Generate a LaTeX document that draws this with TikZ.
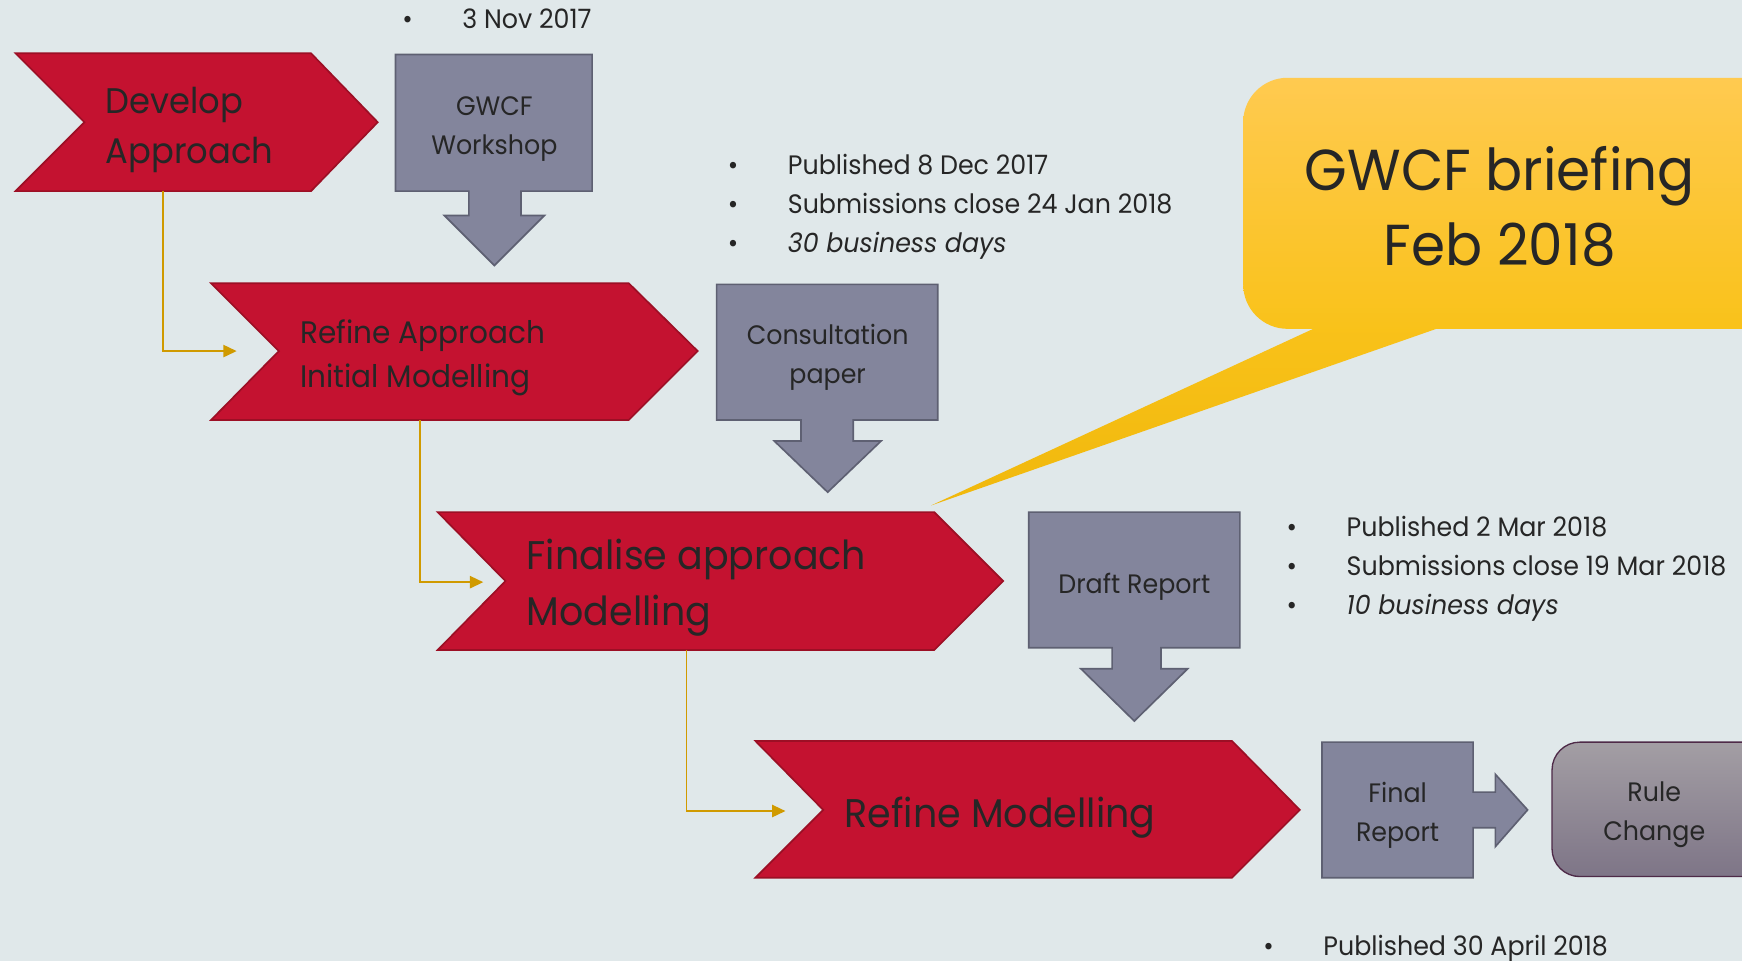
\documentclass[tikz,border=0pt]{standalone}
\usepackage{fontspec}
\setmainfont[FakeStretch=0.95]{Poppins}
\usetikzlibrary{arrows.meta}
\definecolor{bg}{HTML}{E0E8EA}
\definecolor{chev}{HTML}{C41230}
\definecolor{chevb}{HTML}{9C0F25}
\definecolor{box}{HTML}{83859C}
\definecolor{boxb}{HTML}{5E6072}
\definecolor{txt}{HTML}{262626}
\definecolor{conn}{HTML}{D09A00}
\definecolor{ytop}{HTML}{FFCA50}
\definecolor{ybot}{HTML}{F9C21A}
\definecolor{ytip}{HTML}{F0B80C}
\definecolor{rtop}{HTML}{A39EA4}
\definecolor{rbot}{HTML}{7E7587}
\definecolor{rbord}{HTML}{4E2A48}
\begin{document}
\begin{tikzpicture}[x=1pt,y=-1pt,
  chevron/.style={fill=chev,draw=chevb,line width=1.5pt,line join=miter},
  callout/.style={fill=box,draw=boxb,line width=1.5pt,line join=miter},
  linkline/.style={draw=conn,line width=1.6pt,-{Triangle[length=12pt,width=11pt]}},
  lbl/.style={text=txt,inner sep=0pt},
  chevtxt/.style={lbl,anchor=west,align=left},
  boxtxt/.style={lbl,align=center,font=\fontsize{24}{35}\selectfont},
  bul/.style={lbl,anchor=base west,font=\fontsize{24}{35}\selectfont},
]
\useasboundingbox (0,0) rectangle (1568,865);
\fill[bg] (0,0) rectangle (1568,865);

% chevrons
\path[chevron] (14,48) -- (280,48) -- (340,110) -- (280,172) -- (14,172) -- (76,110) -- cycle;
\path[chevron] (190,255) -- (566,255) -- (628,316) -- (566,378) -- (190,378) -- (251,316) -- cycle;
\path[chevron] (394,461) -- (841,461) -- (903,523) -- (841,585) -- (394,585) -- (455,523) -- cycle;
\path[chevron] (680,667) -- (1109,667) -- (1170,729) -- (1109,790) -- (680,790) -- (741,729) -- cycle;

\node[chevtxt,font=\fontsize{32}{45}\selectfont] (dev) at (95,117) {Develop\\Approach};
\node[chevtxt,font=\fontsize{28}{40}\selectfont] (refa) at (270,322) {Refine Approach\\Initial Modelling};
\node[chevtxt,font=\fontsize{36}{51}\selectfont] (fin) at (474,529) {Finalise approach\\Modelling};
\node[chevtxt,font=\fontsize{36}{51}\selectfont] (refm) at (760,736) {Refine Modelling};

% callouts
\path[callout] (356,49) -- (533,49) -- (533,172) -- (469,172) -- (469,194) -- (490,194) -- (445,239) -- (400,194) -- (422,194) -- (422,172) -- (356,172) -- cycle;
\path[callout] (645,256) -- (844,256) -- (844,378) -- (768,378) -- (768,397) -- (793,397) -- (745,443) -- (697,397) -- (721,397) -- (721,378) -- (645,378) -- cycle;
\path[callout] (926,461) -- (1116,461) -- (1116,583) -- (1045,583) -- (1045,602) -- (1069,602) -- (1021,649) -- (973,602) -- (1001,602) -- (1001,583) -- (926,583) -- cycle;
\path[callout] (1190,668) -- (1326,668) -- (1326,713) -- (1346,713) -- (1346,697) -- (1375,729) -- (1346,762) -- (1346,745) -- (1326,745) -- (1326,790) -- (1190,790) -- cycle;

\node[boxtxt] (ws) at (445,116) {GWCF\\Workshop};
\node[boxtxt] (cp) at (745,322) {Consultation\\paper};
\node[boxtxt] (dr) at (1021,528) {Draft Report};
\node[boxtxt] (fr) at (1258,734) {Final\\Report};

% rule change
\shade[top color=rtop,bottom color=rbot,draw=rbord,line width=1.2pt,rounded corners=25pt] (1397,668) rectangle (1610,789);
\node[boxtxt] (rc) at (1489,733) {Rule\\Change};

% connectors
\coordinate (c1s) at (147,172); \coordinate (c2e) at (213,316);
\coordinate (c2s) at (378,378); \coordinate (c3e) at (435,524);
\coordinate (c3s) at (618,585); \coordinate (c4e) at (707,730);
\draw[linkline] (c1s) |- (c2e);
\draw[linkline] (c2s) |- (c3e);
\draw[linkline] (c3s) |- (c4e);

% bullets
\node[bul] (b0) at (362,26) {\makebox[54pt][l]{•}3 Nov 2017};
\node[bul] (b1) at (655,157) {\makebox[54pt][l]{•}Published 8 Dec 2017};
\node[bul] (b2) at (655,192) {\makebox[54pt][l]{•}Submissions close 24 Jan 2018};
\node[bul] (b3) at (655,227) {\makebox[54pt][l]{•}\itshape 30 business days};
\node[bul] (b4) at (1158,483) {\makebox[54pt][l]{•}Published 2 Mar 2018};
\node[bul] (b5) at (1158,518) {\makebox[54pt][l]{•}Submissions close 19 Mar 2018};
\node[bul] (b6) at (1158,553) {\makebox[54pt][l]{•}\itshape 10 business days};
\node[bul] (b7) at (1137,860) {\makebox[54pt][l]{•}Published 30 April 2018};

% speech bubble
\shade[top color=ybot,bottom color=ytip] (1195,290) -- (838,455) -- (1310,290) -- cycle;
\shade[top color=ytop,bottom color=ybot,rounded corners=40pt] (1119,70) rectangle (1620,296);
\node[lbl,align=center,font=\fontsize{52}{67}\selectfont] (brief) at (1350,186) {GWCF briefing\\Feb 2018};
\end{tikzpicture}
\end{document}
